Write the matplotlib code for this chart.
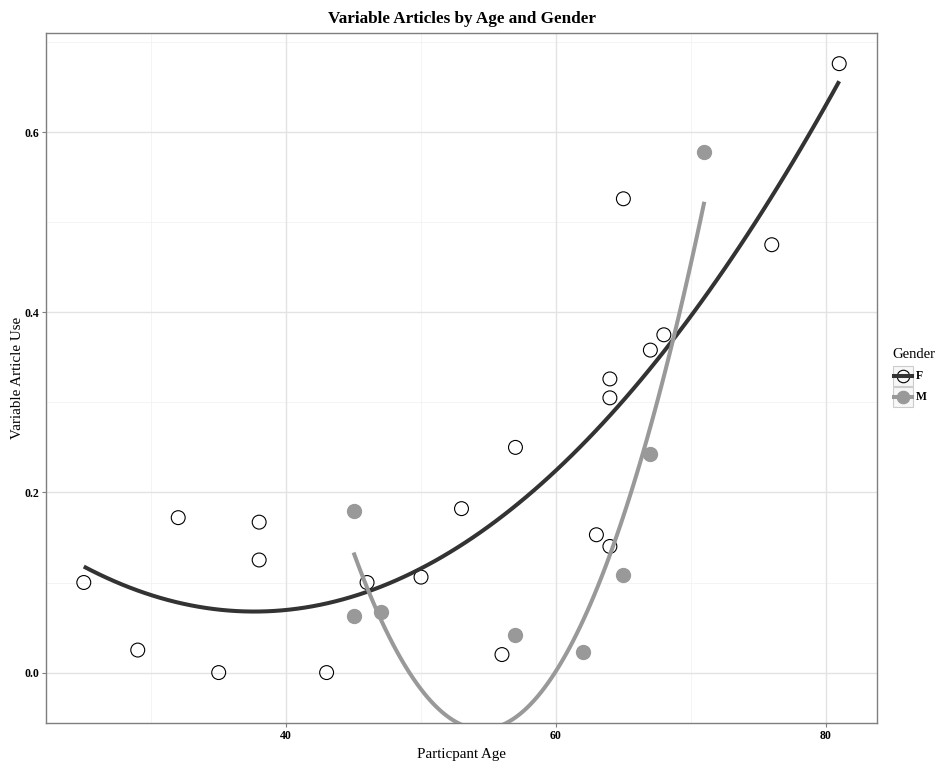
#Variable article use by participant age, split by gender, with quadratic smoothers.
import matplotlib
matplotlib.use("Agg")
import matplotlib.pyplot as plt
from matplotlib.lines import Line2D
from matplotlib.patches import Rectangle
import numpy as np

plt.rcParams["font.family"] = ["Liberation Serif", "DejaVu Serif"]

age_f = [25, 29, 32, 35, 38, 38, 43, 46, 50, 53, 56, 57, 63, 64, 64, 64, 65, 67, 68, 76, 81]
use_f = [0.100, 0.025, 0.172, 0.000, 0.167, 0.125, 0.000, 0.100, 0.106, 0.182, 0.020,
         0.250, 0.153, 0.140, 0.305, 0.326, 0.526, 0.358, 0.375, 0.475, 0.676]
age_m = [45, 45, 47, 57, 62, 65, 67, 71]
use_m = [0.179, 0.063, 0.067, 0.042, 0.023, 0.108, 0.243, 0.578]

x_ticks = [40, 60, 80]
y_ticks = [0.0, 0.2, 0.4, 0.6]


def smooth(x, y, deg=2, n_out=100):
    # least squares polynomial fit, evaluated over the data range
    coef = np.polyfit(x, y, deg)
    grid = np.linspace(min(x), max(x), n_out)
    return grid, np.polyval(coef, grid)


fig = plt.figure(figsize=(9.43, 7.63), dpi=100)
ax = fig.add_axes([0.0488, 0.0524, 0.8812, 0.9043])

# grid
for v in [30, 50, 70]:
    ax.axvline(v, color="#f2f2f2", lw=0.6, zorder=0)
for v in [0.1, 0.3, 0.5, 0.7]:
    ax.axhline(v, color="#f2f2f2", lw=0.6, zorder=0)
for v in x_ticks:
    ax.axvline(v, color="#e3e3e3", lw=1.0, zorder=0)
for v in y_ticks:
    ax.axhline(v, color="#e3e3e3", lw=1.0, zorder=0)

ax.scatter(age_f, use_f, s=100, facecolors="none", edgecolors="black", linewidths=0.8, zorder=2)
ax.scatter(age_m, use_m, s=100, color="#999999", zorder=2)

gx, gy = smooth(age_f, use_f)
ax.plot(gx, gy, color="#333333", lw=2.9, zorder=3, solid_capstyle="butt")
gx, gy = smooth(age_m, use_m)
ax.plot(gx, gy, color="#999999", lw=2.9, zorder=3, solid_capstyle="butt")

ax.set_xlim(22.2, 83.8)
ax.set_ylim(-0.056, 0.71)
ax.set_xticks(x_ticks)
ax.set_yticks(y_ticks)
ax.set_xticklabels([str(v) for v in x_ticks], fontsize=8.5, fontweight="bold")
ax.set_yticklabels(["%.1f" % v for v in y_ticks], fontsize=8.5, fontweight="bold")
ax.tick_params(length=3, color="#7f7f7f", pad=2)
for s in ax.spines.values():
    s.set_color("#7f7f7f")
    s.set_linewidth(1.0)

ax.set_xlabel("Particpant Age", fontsize=10.8, labelpad=4)
ax.set_ylabel("Variable Article Use", fontsize=10.8, labelpad=0)
ax.set_title("Variable Articles by Age and Gender", fontsize=12.3, fontweight="bold", pad=7)

# legend
fig.text(892 / 943, 1 - 354 / 763, "Gender", fontsize=10.5, va="center", ha="left")
for i, (lab, mfc, col) in enumerate([("F", "none", "#333333"), ("M", "#999999", "#999999")]):
    yc = 376 + 21 * i
    fig.patches.append(Rectangle((893 / 943, 1 - (yc + 10) / 763), 20 / 943, 20 / 763,
                                 transform=fig.transFigure, facecolor="#f7f7f7",
                                 edgecolor="#cccccc", lw=0.8))
    fig.add_artist(Line2D([903 / 943], [1 - yc / 763], marker="o", ms=9, mfc=mfc,
                          mec="black" if lab == "F" else "#999999", mew=0.8, ls="none",
                          transform=fig.transFigure))
    fig.add_artist(Line2D([894 / 943, 912 / 943], [1 - yc / 763] * 2, color=col, lw=2.9,
                          transform=fig.transFigure))
    fig.text(916 / 943, 1 - yc / 763, lab, fontsize=8.5, fontweight="bold", va="center")

fig.savefig("out.png", dpi=100)
